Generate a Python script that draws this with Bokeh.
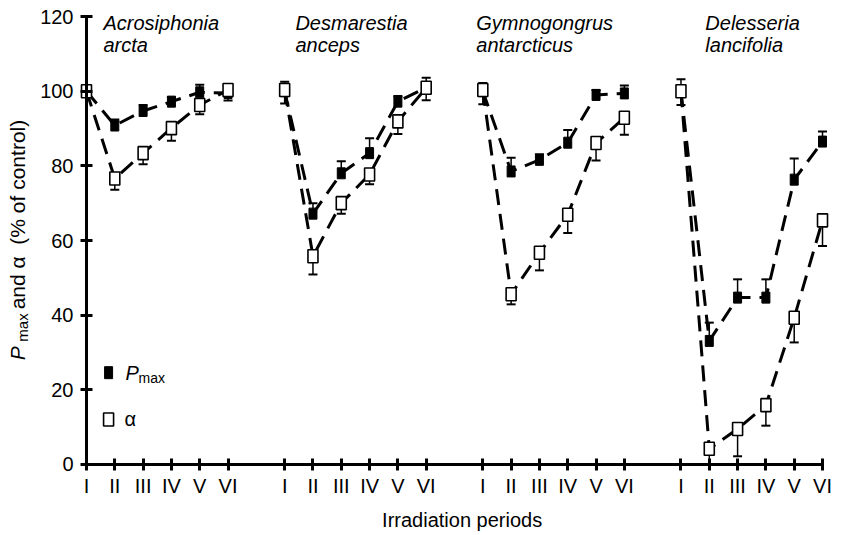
from math import pi

from bokeh.embed import file_html
from bokeh.models import FixedTicker, Label, Range1d
from bokeh.plotting import figure
from bokeh.resources import INLINE

# ---- data -------------------------------------------------------------
periods = ["I", "II", "III", "IV", "V", "VI"]
genus = ["Acrosiphonia", "Desmarestia", "Gymnogongrus", "Delesseria"]
epithet = ["arcta", "anceps", "antarcticus", "lancifolia"]

# Pmax (% of control) and upper error, per irradiation period
pmax_acrosiphonia = [100.0, 90.8, 94.7, 97.2, 99.7, 99.5]
pmax_err_acrosiphonia = [1.5, 1.6, 1.6, 1.2, 2.0, 1.5]
pmax_desmarestia = [100.0, 67.2, 78.0, 83.4, 97.2, 101.0]
pmax_err_desmarestia = [2.5, 2.8, 3.2, 4.0, 1.5, 2.6]
pmax_gymnogongrus = [100.0, 78.5, 81.6, 86.2, 99.0, 99.4]
pmax_err_gymnogongrus = [2.2, 3.7, 1.5, 3.4, 1.3, 2.1]
pmax_delesseria = [100.0, 33.1, 44.7, 44.7, 76.3, 86.5]
pmax_err_delesseria = [3.2, 4.9, 4.9, 4.9, 5.7, 2.7]

# alpha (% of control) and lower error, per irradiation period
alpha_acrosiphonia = [100.0, 76.6, 83.4, 90.1, 96.3, 100.3]
alpha_err_acrosiphonia = [1.0, 3.0, 3.0, 3.4, 2.5, 2.8]
alpha_desmarestia = [100.3, 55.8, 70.0, 77.7, 91.9, 100.9]
alpha_err_desmarestia = [3.6, 4.9, 2.8, 2.6, 3.4, 3.3]
alpha_gymnogongrus = [100.3, 45.6, 56.7, 66.9, 86.1, 92.9]
alpha_err_gymnogongrus = [3.8, 2.7, 4.7, 4.9, 4.7, 4.6]
alpha_delesseria = [100.0, 4.2, 9.5, 15.9, 39.3, 65.4]
alpha_err_delesseria = [3.7, 4.2, 7.3, 5.5, 6.6, 6.9]

pmax_all = [pmax_acrosiphonia, pmax_desmarestia, pmax_gymnogongrus, pmax_delesseria]
pmax_err_all = [pmax_err_acrosiphonia, pmax_err_desmarestia,
                pmax_err_gymnogongrus, pmax_err_delesseria]
alpha_all = [alpha_acrosiphonia, alpha_desmarestia, alpha_gymnogongrus, alpha_delesseria]
alpha_err_all = [alpha_err_acrosiphonia, alpha_err_desmarestia,
                 alpha_err_gymnogongrus, alpha_err_delesseria]

y_ticks = [0, 20, 40, 60, 80, 100, 120]

# ---- layout -----------------------------------------------------------
GROUP_STRIDE = 7          # six periods plus one empty slot between species
FONT = "Liberation Sans"
DASH = "16 9"
NBSP = "\u00a0"

# The frame fills the canvas; the axes sit at x=0 and y=0 inside it so the
# titles and legend can be placed freely around them.
p = figure(width=842, height=535, output_backend="svg", toolbar_location=None,
           x_range=Range1d(-3.038, 26.706), y_range=Range1d(-19.02, 124.29),
           min_border=0, min_border_left=0, min_border_right=0,
           min_border_top=0, min_border_bottom=0)
p.outline_line_color = None
p.xgrid.visible = False
p.ygrid.visible = False
p.background_fill_color = "white"
p.border_fill_color = "white"

tick_pos = []
tick_labels = {}
for g in range(4):
    for k, name in enumerate(periods):
        x = g * GROUP_STRIDE + k
        tick_pos.append(x)
        tick_labels[x] = name

xa = p.xaxis[0]
xa.ticker = FixedTicker(ticks=tick_pos)
xa.major_label_overrides = tick_labels
xa.bounds = (0, 26)
xa.fixed_location = 0
ya = p.yaxis[0]
ya.ticker = FixedTicker(ticks=y_ticks)
ya.bounds = (0, 120)
ya.fixed_location = 0
for ax in (xa, ya):
    ax.axis_line_width = 3
    ax.axis_line_color = "black"
    ax.major_tick_line_width = 3
    ax.major_tick_line_color = "black"
    ax.major_tick_in = 6
    ax.major_tick_out = 6
    ax.minor_tick_line_color = None
    ax.major_label_text_font = FONT
    ax.major_label_text_font_size = "20px"
    ax.major_label_text_color = "black"
xa.major_label_standoff = 5
ya.major_label_standoff = 7


def text(x, y, s, size="20px", style="normal", **kw):
    p.add_layout(Label(x=x, y=y, text=s, text_font=FONT, text_font_size=size,
                       text_font_style=style, text_color="black",
                       text_baseline="alphabetic", **kw))


renderers = []
for g in range(4):
    xs = [g * GROUP_STRIDE + k for k in range(6)]
    pm, pe = pmax_all[g], pmax_err_all[g]
    al, ae = alpha_all[g], alpha_err_all[g]

    renderers.append(p.line(xs, pm, line_color="black", line_width=3, line_dash=DASH))
    renderers.append(p.line(xs, al, line_color="black", line_width=3, line_dash=DASH))

    # error bars: Pmax upward, alpha downward
    pm_top = [v + e for v, e in zip(pm, pe)]
    al_bot = [v - e for v, e in zip(al, ae)]
    renderers.append(p.segment(xs, pm, xs, pm_top, line_color="black", line_width=1.5))
    renderers.append(p.segment(xs, al, xs, al_bot, line_color="black", line_width=1.5))
    renderers.append(p.scatter(xs, pm_top, marker="dash", size=9,
                               line_color="black", line_width=2))
    renderers.append(p.scatter(xs, al_bot, marker="dash", size=9,
                               line_color="black", line_width=2))

    renderers.append(p.rect(xs, pm, width=8, height=11, width_units="screen",
                            height_units="screen", fill_color="black",
                            line_color="black", line_width=1))
    renderers.append(p.rect(xs, al, width=10, height=13, width_units="screen",
                            height_units="screen", fill_color="white",
                            line_color="black", line_width=1.6))

    # species name, two lines in italics
    name_x = [0.6, 7.38, 13.77, 21.86][g]
    text(name_x, 118.3, genus[g], style="italic")
    text(name_x, 112.4, epithet[g], style="italic")

# legend
renderers.append(p.rect([0.78], [24.6], width=8, height=12, width_units="screen",
                        height_units="screen", fill_color="black", line_color="black"))
renderers.append(p.rect([0.78], [12.05], width=10, height=13, width_units="screen",
                        height_units="screen", fill_color="white", line_color="black",
                        line_width=1.6))
text(1.38, 24.4, "P", style="italic")
text(1.84, 23.1, "max", size="14px")
text(1.34, 12.3, "α")

# axis titles
text(13.27, -15.0, "Irradiation periods", text_align="center")
text(-2.42, 27.9, "P", size="21px", style="italic", angle=pi / 2)
text(-2.27, 32.9, "max", size="15px", angle=pi / 2)
text(-2.42, 40.0, NBSP + "and" + NBSP + "α" + NBSP * 2 + "(% of control)",
     size="21px", angle=pi / 2)

open("out.html", "w").write(file_html(p, INLINE))
